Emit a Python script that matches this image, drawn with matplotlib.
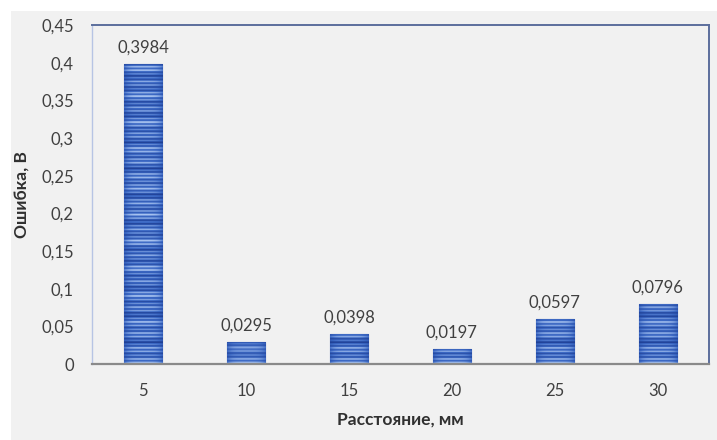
import numpy as np
import matplotlib
matplotlib.use("Agg")
import matplotlib.pyplot as plt
from matplotlib.colors import LinearSegmentedColormap
from matplotlib.patches import Rectangle
from matplotlib.ticker import FuncFormatter, MultipleLocator

# Data
distances = ["5", "10", "15", "20", "25", "30"]
errors = [0.3984, 0.0295, 0.0398, 0.0197, 0.0597, 0.0796]
value_labels = ["0,3984", "0,0295", "0,0398", "0,0197", "0,0597", "0,0796"]

plt.rcParams['font.family'] = ['Lato', 'DejaVu Sans']

W, H = 717, 440
fig = plt.figure(figsize=(W / 100, H / 100), dpi=100, facecolor="white")
# light gray chart area with a thin white margin on top and left
fig.add_artist(Rectangle((11 / W, 0), 1 - 11 / W, 1 - 11 / H,
                         transform=fig.transFigure, facecolor="#f1f1f1",
                         edgecolor="none", zorder=-5))

ax = fig.add_axes([92 / W, 76 / H, (709 - 92) / W, (364 - 25) / H])
ax.set_zorder(1)
ax.set_facecolor("#f1f1f1")

x = np.arange(len(distances))
bar_w = 0.37
bars = ax.bar(x, errors, width=bar_w, color="#2e56b0", edgecolor="#27469a",
              linewidth=0.8, zorder=2)

# striped texture for the bars
rows = 340
yy = np.arange(rows)[:, None]
stripe = (0.55 + 0.25 * np.sin(2 * np.pi * yy / 3.7)
          + 0.15 * np.sin(2 * np.pi * yy / 13.3 + 0.7)
          + 0.08 * np.sin(2 * np.pi * yy / 29.0))
cols = np.linspace(-1, 1, 40)[None, :]
shade = 1 - 0.35 * cols ** 4
tex = np.clip(stripe * shade, 0, 1)
cmap = LinearSegmentedColormap.from_list("bar", ["#1b3a8f", "#3b68c4", "#a9c4f0"])

for rect in bars:
    x0 = rect.get_x()
    im = ax.imshow(tex, extent=[x0, x0 + rect.get_width(), 0, 0.45],
                   origin="lower", aspect="auto", cmap=cmap, vmin=0, vmax=1,
                   interpolation="bilinear", zorder=2.5)
    im.set_clip_path(rect)

for xi, v, lab in zip(x, errors, value_labels):
    ax.annotate(lab, (xi, v), xytext=(0, 6), textcoords="offset points",
                ha="center", va="bottom", fontsize=12, color="#404040")

ax.set_xlim(-0.5, len(distances) - 0.5)
ax.set_ylim(0, 0.45)
ax.set_xticks(x)
ax.set_xticklabels(distances)
ax.yaxis.set_major_locator(MultipleLocator(0.05))
ax.yaxis.set_major_formatter(FuncFormatter(lambda v, p: f"{round(v, 2):g}".replace(".", ",")))
ax.tick_params(axis="both", length=0, labelsize=12, colors="#404040")
ax.tick_params(axis="y", pad=13)
ax.tick_params(axis="x", pad=14)

ax.spines["bottom"].set_color("#8a8a8a")
ax.spines["bottom"].set_linewidth(1.6)
ax.spines["left"].set_color("#b7c4e4")
ax.spines["left"].set_linewidth(1.0)
for s in ("top", "right"):
    ax.spines[s].set_color("#5b6e9c")
    ax.spines[s].set_linewidth(1.4)

ax.set_xlabel("Расстояние, мм", fontsize=12.5, fontweight="bold", color="#303030", labelpad=9)
ax.set_ylabel("Ошибка, В", fontsize=12.5, fontweight="bold", color="#303030", labelpad=8)

fig.savefig("out.png", dpi=100, facecolor="white")
